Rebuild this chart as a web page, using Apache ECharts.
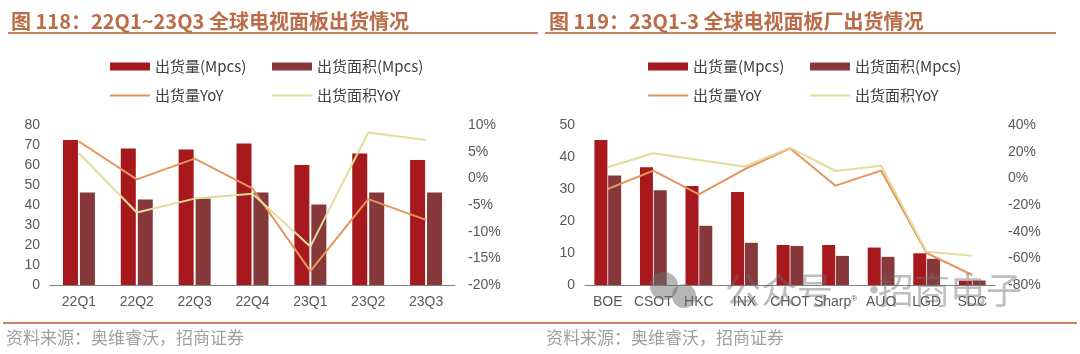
<!DOCTYPE html>
<html>
<head>
<meta charset="utf-8">
<script src="https://cdn.jsdelivr.net/npm/echarts@6/dist/echarts.min.js"></script>
<style>
  html, body { margin: 0; padding: 0; background: #fff; }
  #main { width: 1080px; height: 354px; }
</style>
</head>
<body>
<div id="main"></div>
<script>
// 图118：季度出货
var quarters = ['22Q1', '22Q2', '22Q3', '22Q4', '23Q1', '23Q2', '23Q3'];
var qShip = [72.5, 68.3, 67.8, 70.8, 60, 65.7, 62.5];
var qArea = [46.3, 42.8, 43.3, 46.3, 40.3, 46.3, 46.3];
var qShipYoY = [6.9, -0.2, 3.7, -1.9, -17.4, -3.9, -7.8];
var qAreaYoY = [4.7, -6.4, -3.8, -2.9, -12.8, 8.6, 7.2];

// 图119：面板厂出货
var makers = ['BOE', 'CSOT', 'HKC', 'INX', 'CHOT', 'Sharp', 'AUO', 'LGD', 'SDC'];
var mShip = [45.3, 36.8, 30.9, 29.1, 12.5, 12.5, 11.7, 9.9, 1.3];
var mArea = [34.2, 29.6, 18.5, 13.2, 12.2, 9.1, 8.8, 8.2, 1.4];
var mShipYoY = [-8, 5.8, -12, 6.8, 22.5, -5.5, 5.8, -56, -72.5];
var mAreaYoY = [8.3, 18.8, 13.8, 8.8, 23, 5.5, 9.5, -55, -58];

var RED = '#A8191D';
var DARK = '#86383A';
var ORANGE = '#E6945A';
var YELLOW = '#E2DD9C';
var TITLE_C = '#BB6B46';
var LINE_C = '#CB8262';
var AX_FONT = 'Liberation Sans';

var names = ['出货量(Mpcs)', '出货面积(Mpcs)', '出货量YoY', '出货面积YoY'];

function legendItem(name, x, y, isBar) {
    return {
        left: x, top: y,
        data: [name],
        icon: 'rect',
        itemWidth: 40,
        itemHeight: isBar ? 8 : 2,
        itemGap: 4,
        textStyle: { fontSize: 15, color: '#404040', fontFamily: 'Noto Sans CJK SC' },
        selectedMode: false
    };
}

function xAx(grid, data) {
    return {
        type: 'category', gridIndex: grid, data: data,
        axisLine: { lineStyle: { color: '#808080', width: 1 } },
        axisTick: { inside: true, length: 4, lineStyle: { color: '#808080' } },
        axisLabel: {
            interval: 0, margin: 10, fontSize: 14, color: '#595959', fontFamily: AX_FONT,
            formatter: function (v) { return v === 'Sharp' ? '{a|Sharp}{s|®}' : v; },
            rich: { a: { fontSize: 14, color: '#595959', fontFamily: AX_FONT }, s: { fontSize: 8, color: '#595959', verticalAlign: 'top' } }
        }
    };
}

function yAx(grid, min, max, step, pct, margin) {
    return {
        type: 'value', gridIndex: grid, min: min, max: max, interval: step,
        position: pct ? 'right' : 'left',
        splitLine: { show: false },
        axisLine: { show: false },
        axisTick: { show: false },
        axisLabel: {
            margin: margin, fontSize: 14, color: '#595959', fontFamily: AX_FONT,
            align: pct ? 'left' : 'right',
            formatter: pct ? '{value}%' : '{value}'
        }
    };
}

var option = {
    animation: false,
    title: [
        { text: '图 118：22Q1~23Q3 全球电视面板出货情况', left: 6, top: 6,
          textStyle: { fontSize: 20, fontWeight: 'bold', color: TITLE_C, fontFamily: 'Noto Sans CJK SC' } },
        { text: '图 119：23Q1-3 全球电视面板厂出货情况', left: 544, top: 6,
          textStyle: { fontSize: 20, fontWeight: 'bold', color: TITLE_C, fontFamily: 'Noto Sans CJK SC' } }
    ],
    legend: [
        legendItem(names[0], 105, 54, true),
        legendItem(names[1], 267, 54, true),
        legendItem(names[2], 105, 83, false),
        legendItem(names[3], 267, 83, false),
        legendItem(names[0], 643, 54, true),
        legendItem(names[1], 805, 54, true),
        legendItem(names[2], 643, 83, false),
        legendItem(names[3], 805, 83, false)
    ],
    grid: [
        { left: 50, top: 125, width: 405, height: 160 },
        { left: 585, top: 125, width: 410, height: 160 }
    ],
    xAxis: [xAx(0, quarters), xAx(1, makers)],
    yAxis: [
        yAx(0, 0, 80, 10, false, 10),
        yAx(0, -20, 10, 5, true, 13),
        yAx(1, 0, 50, 10, false, 10),
        yAx(1, -80, 40, 20, true, 13)
    ],
    series: [
        { name: names[0], type: 'bar', xAxisIndex: 0, yAxisIndex: 0, data: qShip, barWidth: 15, barGap: '13%', itemStyle: { color: RED } },
        { name: names[1], type: 'bar', xAxisIndex: 0, yAxisIndex: 0, data: qArea, barWidth: 15, barGap: '13%', itemStyle: { color: DARK } },
        { name: names[2], type: 'line', xAxisIndex: 0, yAxisIndex: 1, data: qShipYoY, showSymbol: false, lineStyle: { color: ORANGE, width: 2 }, itemStyle: { color: ORANGE } },
        { name: names[3], type: 'line', xAxisIndex: 0, yAxisIndex: 1, data: qAreaYoY, showSymbol: false, lineStyle: { color: YELLOW, width: 2 }, itemStyle: { color: YELLOW } },
        { name: names[0], type: 'bar', xAxisIndex: 1, yAxisIndex: 2, data: mShip, barWidth: 13, barGap: '6%', itemStyle: { color: RED } },
        { name: names[1], type: 'bar', xAxisIndex: 1, yAxisIndex: 2, data: mArea, barWidth: 13, barGap: '6%', itemStyle: { color: DARK } },
        { name: names[2], type: 'line', xAxisIndex: 1, yAxisIndex: 3, data: mShipYoY, showSymbol: false, lineStyle: { color: ORANGE, width: 2 }, itemStyle: { color: ORANGE } },
        { name: names[3], type: 'line', xAxisIndex: 1, yAxisIndex: 3, data: mAreaYoY, showSymbol: false, lineStyle: { color: YELLOW, width: 2 }, itemStyle: { color: YELLOW } }
    ],
    graphic: [
        // 标题下划线
        { type: 'line', shape: { x1: 8, y1: 33, x2: 538, y2: 33 }, style: { stroke: LINE_C, lineWidth: 2 } },
        { type: 'line', shape: { x1: 545, y1: 33, x2: 1056, y2: 33 }, style: { stroke: LINE_C, lineWidth: 2 } },
        // 底部分隔线
        { type: 'line', shape: { x1: 3, y1: 323, x2: 1077, y2: 323 }, style: { stroke: LINE_C, lineWidth: 2 } },
        { type: 'text', left: 6, top: 329, style: { text: '资料来源：奥维睿沃，招商证券', fontSize: 17, fill: '#a0a0a0', fontFamily: 'Noto Sans CJK SC' } },
        { type: 'text', left: 546, top: 329, style: { text: '资料来源：奥维睿沃，招商证券', fontSize: 17, fill: '#a0a0a0', fontFamily: 'Noto Sans CJK SC' } },
        // 水印
        { type: 'circle', shape: { cx: 664, cy: 286, r: 14 }, style: { fill: 'rgba(110,110,110,0.5)' }, z: 100 },
        { type: 'circle', shape: { cx: 684, cy: 296, r: 12 }, style: { fill: 'rgba(110,110,110,0.5)' }, z: 100 },
        { type: 'text', left: 725, top: 272, style: { text: '公众号', fontSize: 36, fill: 'rgba(110,110,110,0.45)', fontFamily: 'Noto Sans CJK SC' }, z: 100 },
        { type: 'text', left: 856, top: 272, style: { text: '·', fontSize: 36, fill: 'rgba(110,110,110,0.45)', fontFamily: 'Noto Sans CJK SC' }, z: 100 },
        { type: 'text', left: 878, top: 272, style: { text: '招商电子', fontSize: 36, fill: 'rgba(110,110,110,0.45)', fontFamily: 'Noto Sans CJK SC' }, z: 100 }
    ]
};

var myChart = echarts.init(document.getElementById('main'));
myChart.setOption(option);
</script>
</body>
</html>
